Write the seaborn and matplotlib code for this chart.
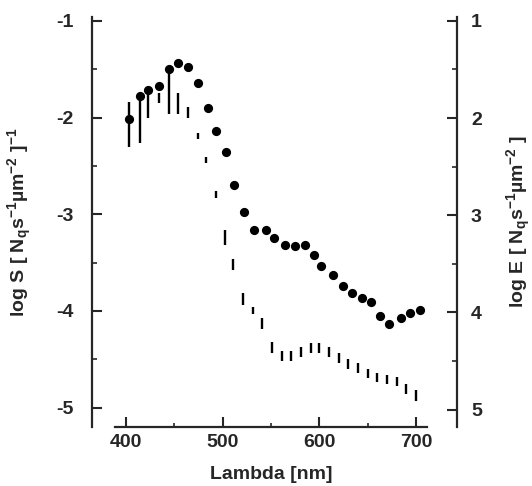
import matplotlib
matplotlib.use("Agg")
import matplotlib.pyplot as plt
import seaborn as sns

# log S spectrum (filled circles, left axis)
lam_s = [403, 414, 423, 434, 444, 454, 464, 474, 485, 493,
         503, 512, 522, 532, 545, 553, 564, 575, 585, 594,
         602, 614, 624, 634, 644, 653, 663, 672, 684, 694, 704]
log_s = [-2.01, -1.78, -1.71, -1.67, -1.50, -1.44, -1.48, -1.64, -1.90, -2.14,
         -2.36, -2.70, -2.98, -3.16, -3.16, -3.25, -3.32, -3.33, -3.32, -3.42,
         -3.54, -3.63, -3.74, -3.81, -3.87, -3.91, -4.05, -4.13, -4.07, -4.02, -3.99]

# log E ranges (vertical bars, right axis, inverted)
lam_e = [403, 414, 423, 434, 444, 454, 464, 474, 483, 493,
         502, 511, 521, 531, 541, 551, 561, 571, 581, 591,
         600, 610, 620, 630, 640, 650, 660, 670, 680, 690, 700]
e_top = [1.84, 1.77, 1.70, 1.74, 1.50, 1.74, 1.89, 2.15, 2.40, 2.75,
         3.15, 3.45, 3.80, 3.95, 4.06, 4.30, 4.40, 4.40, 4.36, 4.32,
         4.32, 4.36, 4.42, 4.48, 4.52, 4.58, 4.62, 4.64, 4.67, 4.74, 4.80]
e_bot = [2.30, 2.26, 2.00, 1.85, 1.96, 1.96, 2.00, 2.22, 2.46, 2.82,
         3.31, 3.56, 3.92, 4.02, 4.17, 4.42, 4.50, 4.50, 4.46, 4.42,
         4.42, 4.46, 4.52, 4.58, 4.62, 4.68, 4.72, 4.74, 4.76, 4.84, 4.91]

x_ticks = [400, 500, 600, 700]
y_ticks = [-1, -2, -3, -4, -5]
e_ticks = [1, 2, 3, 4, 5]

sns.set_style("ticks")
plt.rcParams["font.family"] = ["Liberation Sans", "DejaVu Sans"]
plt.rcParams["font.weight"] = "bold"
plt.rcParams["axes.unicode_minus"] = False
plt.rcParams["mathtext.fontset"] = "custom"
plt.rcParams["mathtext.rm"] = "Liberation Sans:bold"
plt.rcParams["mathtext.it"] = "Liberation Sans:bold"
plt.rcParams["mathtext.bf"] = "Liberation Sans:bold"
plt.rcParams["mathtext.default"] = "rm"

fs = 14
fig = plt.figure(figsize=(5.32, 4.86), dpi=100)
ax = fig.add_axes([92 / 532, 1 - 427 / 486, 365 / 532, 410 / 486])
ax.set_facecolor("white")

sns.scatterplot(x=lam_s, y=log_s, ax=ax, color="black", s=44, linewidth=0, zorder=3)

ax.set_xlim(364.8, 742.4)
ax.set_ylim(-5.2, -0.96)
ax.set_xticks(x_ticks)
ax.set_xticks([450, 550, 650], minor=True)
ax.set_yticks(y_ticks)
ax.set_yticks([-1.5, -2.5, -3.5, -4.5], minor=True)
ax.set_xticklabels([str(v) for v in x_ticks], fontsize=fs, fontweight="bold")
ax.set_yticklabels([str(v) for v in y_ticks], fontsize=fs, fontweight="bold")

for s in ["top", "right"]:
    ax.spines[s].set_visible(False)
for s in ["left", "bottom"]:
    ax.spines[s].set_linewidth(1.6)
ax.spines["bottom"].set_bounds(388.6, 711.4)

ax.tick_params(axis="x", which="major", direction="in", length=7, width=1.5, pad=5)
ax.tick_params(axis="x", which="minor", direction="in", length=3, width=1.2)
ax.tick_params(axis="y", which="major", direction="in", length=7, width=1.5, pad=13)
ax.tick_params(axis="y", which="minor", direction="in", length=3.5, width=1.2)

ax.set_xlabel("Lambda [nm]", fontsize=fs, fontweight="bold")
ax.xaxis.set_label_coords(0.49, -0.095)
ax.set_ylabel(r"log S [ N$_{q}$s$^{-1}$µm$^{-2}$ ]$^{-1}$", fontsize=fs, fontweight="bold")
ax.yaxis.set_label_coords(-0.16, 0.5)

ax2 = ax.twinx()
ax2.vlines(lam_e, e_top, e_bot, color="black", linewidth=1.7, zorder=2)
ax2.set_ylim(5.18, 0.96)
ax2.set_yticks(e_ticks)
ax2.set_yticks([1.5, 2.5, 3.5, 4.5], minor=True)
ax2.set_yticklabels([str(v) for v in e_ticks], fontsize=fs, fontweight="bold")
for s in ["top", "left", "bottom"]:
    ax2.spines[s].set_visible(False)
ax2.spines["right"].set_linewidth(1.6)
ax2.tick_params(axis="y", which="major", direction="in", length=7, width=1.5, pad=10)
ax2.tick_params(axis="y", which="minor", direction="in", length=3.5, width=1.2)
ax2.set_ylabel(r"log E [ N$_{q}$s$^{-1}$µm$^{-2}$ ]", fontsize=fs, fontweight="bold")
ax2.yaxis.set_label_coords(1.13, 0.5)

fig.savefig("out.png", dpi=100, facecolor="white")
